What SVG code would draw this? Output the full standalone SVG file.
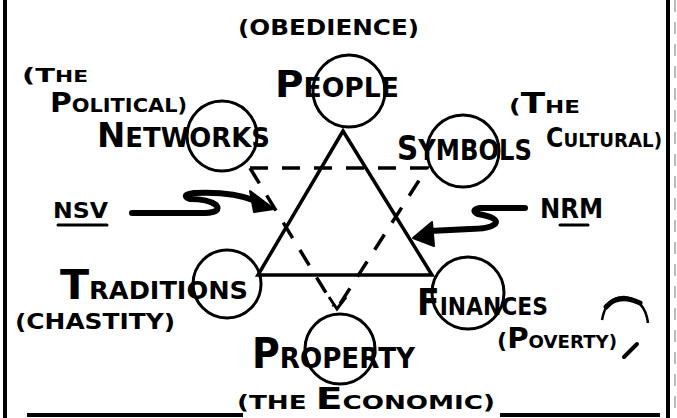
<svg xmlns="http://www.w3.org/2000/svg" width="677" height="418" viewBox="0 0 677 418">
<style>
.c{fill:none;stroke:#000;stroke-width:3}
.t{font-family:"DejaVu Sans","Liberation Sans",sans-serif;font-weight:bold;fill:#000}
.solid{fill:none;stroke:#000;stroke-width:3.5;stroke-linejoin:miter}
.dash{fill:none;stroke:#000;stroke-width:3.5;stroke-dasharray:18 14}
.arr{fill:none;stroke:#000;stroke-width:6;stroke-linecap:round;stroke-linejoin:round}
.ul{stroke:#000;stroke-width:3;stroke-linecap:round}
.frame{stroke:#000;stroke-width:4}
</style>
<rect width="677" height="418" fill="#fff"/>
<g id="frame">
<line class="frame" x1="5" y1="0" x2="5" y2="418"/>
<line class="frame" x1="668" y1="0" x2="668" y2="418"/>
<line x1="675" y1="0" x2="675" y2="418" stroke="#bbb" stroke-width="2" stroke-dasharray="12 10"/>
<line class="frame" x1="27" y1="415" x2="243" y2="415"/>
<line class="frame" x1="500" y1="415" x2="660" y2="415"/>
</g>
<g id="connectors">
<polygon class="solid" points="343,131 258,275 432,275"/>
<path class="dash" d="M250,168 H427 L338,307"/>
<path class="dash" d="M250,168 L334,306"/>
<path class="c" d="M329,297 L337,309 L346,297"/>
<path class="arr" d="M132,213 H205 Q222,212 216,205 Q208,199 190,199 Q180,195 194,193 Q232,191 256,201"/>
<polygon points="274,209 250,191 254,212" fill="#000" stroke="#000" stroke-width="2" stroke-linejoin="round"/>
<path class="arr" d="M525,208 H480 Q470,210 478,214 Q500,218 495,224 Q489,229 470,229 L430,231"/>
<polygon points="413,238 432,222 434,246" fill="#000" stroke="#000" stroke-width="2" stroke-linejoin="round"/>
</g>
<g id="people">
<circle class="c" cx="349" cy="91" r="36"/>
<text class="t" x="275" y="97" textLength="124" lengthAdjust="spacingAndGlyphs"><tspan font-size="38">P</tspan><tspan font-size="26">EOPLE</tspan></text>
<text class="t" x="238" y="35" font-size="21" textLength="181" lengthAdjust="spacingAndGlyphs">(OBEDIENCE)</text>
</g>
<g id="networks">
<circle class="c" cx="222" cy="136" r="35"/>
<text class="t" x="97" y="147" textLength="173" lengthAdjust="spacingAndGlyphs"><tspan font-size="34">N</tspan><tspan font-size="26">ETWORKS</tspan></text>
<text class="t" x="22" y="82" textLength="66" lengthAdjust="spacingAndGlyphs"><tspan font-size="20">(T</tspan><tspan font-size="15">HE</tspan></text>
<text class="t" x="50" y="112" textLength="137" lengthAdjust="spacingAndGlyphs"><tspan font-size="27">P</tspan><tspan font-size="19">OLITICAL)</tspan></text>
</g>
<g id="symbols">
<circle class="c" cx="463" cy="151" r="36"/>
<text class="t" x="397" y="160" textLength="135" lengthAdjust="spacingAndGlyphs"><tspan font-size="34">S</tspan><tspan font-size="28">YMBOLS</tspan></text>
<text class="t" x="509" y="113" textLength="71" lengthAdjust="spacingAndGlyphs"><tspan font-size="20">(</tspan><tspan font-size="28">T</tspan><tspan font-size="18">HE</tspan></text>
<text class="t" x="546" y="147" textLength="116" lengthAdjust="spacingAndGlyphs"><tspan font-size="26">C</tspan><tspan font-size="20">ULTURAL)</tspan></text>
</g>
<g id="traditions">
<circle class="c" cx="227" cy="284" r="34"/>
<text class="t" x="60" y="299" textLength="188" lengthAdjust="spacingAndGlyphs"><tspan font-size="40">T</tspan><tspan font-size="24">RADITIONS</tspan></text>
<text class="t" x="15" y="329" font-size="21" textLength="160" lengthAdjust="spacingAndGlyphs">(CHASTITY)</text>
</g>
<g id="finances">
<circle class="c" cx="468" cy="293" r="36"/>
<text class="t" x="417" y="315" textLength="131" lengthAdjust="spacingAndGlyphs"><tspan font-size="38">F</tspan><tspan font-size="25">INANCES</tspan></text>
<text class="t" x="497" y="348" textLength="120" lengthAdjust="spacingAndGlyphs"><tspan font-size="22">(</tspan><tspan font-size="29">P</tspan><tspan font-size="18">OVERTY)</tspan></text>
<line x1="624" y1="357" x2="637" y2="344" stroke="#000" stroke-width="4" stroke-linecap="round"/>
<path d="M602,320 Q606,297 624,297 Q645,299 648,323" fill="none" stroke="#000" stroke-width="2.5"/>
<path d="M606,307 Q618,293 640,303" fill="none" stroke="#000" stroke-width="5" stroke-linecap="round"/>
</g>
<g id="property">
<circle class="c" cx="340" cy="349" r="35"/>
<text class="t" x="252" y="368" textLength="163" lengthAdjust="spacingAndGlyphs"><tspan font-size="42">P</tspan><tspan font-size="29">ROPERTY</tspan></text>
<text class="t" x="237" y="409" textLength="258" lengthAdjust="spacingAndGlyphs"><tspan font-size="20">(THE </tspan><tspan font-size="30">E</tspan><tspan font-size="20">CONOMIC)</tspan></text>
</g>
<g id="nsv">
<text class="t" x="53" y="218" font-size="21" textLength="55" lengthAdjust="spacingAndGlyphs">NSV</text>
<line class="ul" x1="58" y1="225" x2="107" y2="225"/>
</g>
<g id="nrm">
<text class="t" x="540" y="218" font-size="26" textLength="63" lengthAdjust="spacingAndGlyphs">NRM</text>
<line class="ul" x1="560" y1="225" x2="588" y2="225"/>
</g>
</svg>
